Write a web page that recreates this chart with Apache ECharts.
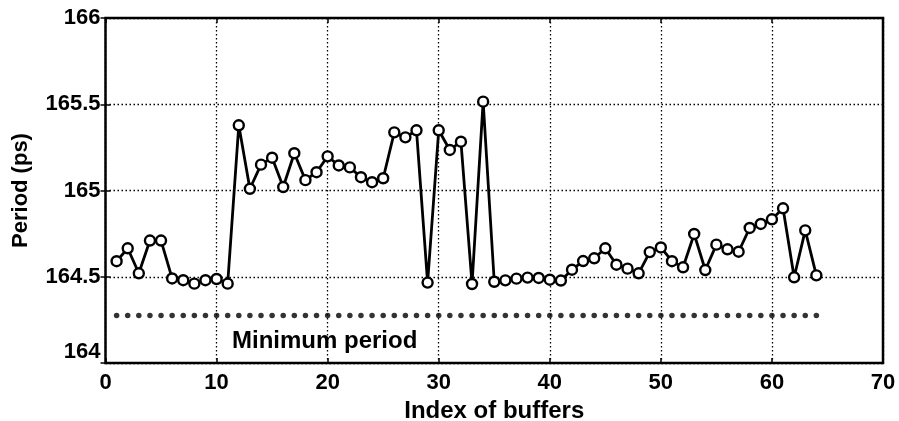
<!DOCTYPE html>
<html>
<head>
<meta charset="utf-8">
<script src="https://cdn.jsdelivr.net/npm/echarts@6/dist/echarts.min.js"></script>
<style>
html,body{margin:0;padding:0;background:#fff;}
#chart{width:899px;height:421px;}
</style>
</head>
<body>
<div id="chart"></div>
<script>
var bufferIndex = [1,2,3,4,5,6,7,8,9,10,11,12,13,14,15,16,17,18,19,20,21,22,23,24,25,26,27,28,29,30,31,32,33,34,35,36,37,38,39,40,41,42,43,44,45,46,47,48,49,50,51,52,53,54,55,56,57,58,59,60,61,62,63,64];
var period = [164.59,164.665,164.52,164.71,164.71,164.49,164.48,164.46,164.48,164.487,164.46,165.378,165.01,165.15,165.19,165.02,165.216,165.06,165.106,165.198,165.145,165.134,165.077,165.048,165.071,165.337,165.308,165.349,164.466,165.349,165.235,165.283,164.458,165.515,164.471,164.479,164.489,164.495,164.493,164.483,164.478,164.541,164.591,164.607,164.665,164.57,164.547,164.52,164.643,164.67,164.59,164.555,164.748,164.539,164.686,164.659,164.645,164.783,164.806,164.833,164.897,164.497,164.769,164.508];
var minimumPeriod = 164.275;
var xTicks = [0,10,20,30,40,50,60,70];
var yTicks = [164,164.5,165,165.5,166];

var chart = echarts.init(document.getElementById('chart'), null, {renderer:'canvas'});
var font = 'Liberation Sans, Arial, Helvetica, sans-serif';
var lineData = bufferIndex.map(function(x,i){return [x, period[i]];});
var minData = bufferIndex.map(function(x){return [x, minimumPeriod];});
var dotted = {color:'#000', width:1.3, type:[1.5,2.5]};
var option = {
  animation:false,
  backgroundColor:'#fff',
  grid:{left:105.5, right:16, top:18, bottom:58, containLabel:false, outerBoundsMode:'none',
        show:true, borderColor:'#000', borderWidth:2.5, backgroundColor:'transparent'},
  xAxis:[{
    type:'value', min:xTicks[0], max:xTicks[xTicks.length-1], interval:10,
    name:'Index of buffers', nameLocation:'middle', nameGap:33,
    nameTextStyle:{fontFamily:font, fontWeight:'bold', fontSize:24, color:'#000'},
    axisLine:{show:false},
    axisTick:{show:true, inside:true, length:5, lineStyle:{color:'#000', width:1.5}},
    axisLabel:{fontFamily:font, fontWeight:'bold', fontSize:22, color:'#000', margin:9},
    splitLine:{show:true, lineStyle:dotted}
  },{
    type:'value', position:'top', min:xTicks[0], max:xTicks[xTicks.length-1], interval:10,
    axisLine:{show:false}, axisLabel:{show:false}, splitLine:{show:false},
    axisTick:{show:true, inside:true, length:5, lineStyle:{color:'#000', width:1.5}}
  }],
  yAxis:[{
    type:'value', min:yTicks[0], max:yTicks[yTicks.length-1], interval:0.5,
    name:'Period (ps)', nameLocation:'middle', nameGap:74,
    nameTextStyle:{fontFamily:font, fontWeight:'bold', fontSize:22, color:'#000'},
    axisLine:{show:false},
    axisTick:{show:true, inside:true, length:5, lineStyle:{color:'#000', width:1.5}},
    axisLabel:{fontFamily:font, fontWeight:'bold', fontSize:22, color:'#000', margin:5,
      verticalAlignMinLabel:'bottom'},
    splitLine:{show:true, lineStyle:dotted}
  },{
    type:'value', position:'right', min:yTicks[0], max:yTicks[yTicks.length-1], interval:0.5,
    axisLine:{show:false}, axisLabel:{show:false}, splitLine:{show:false},
    axisTick:{show:true, inside:true, length:5, lineStyle:{color:'#000', width:1.5}}
  }],
  series:[{
    type:'line', data:lineData, xAxisIndex:0, yAxisIndex:0,
    symbol:'circle', symbolSize:10, showAllSymbol:true,
    lineStyle:{color:'#000', width:2.8},
    itemStyle:{color:'#fff', borderColor:'#000', borderWidth:2.4},
    z:3
  },{
    type:'scatter', data:minData, symbol:'circle', symbolSize:5.5,
    itemStyle:{color:'#000'}, z:2
  }],
  graphic:[{
    type:'text', left:232, top:329,
    style:{text:'Minimum period', fill:'#000', font:'bold 24px Liberation Sans, Arial, sans-serif'}
  }]
};
chart.setOption(option);
</script>
</body>
</html>
